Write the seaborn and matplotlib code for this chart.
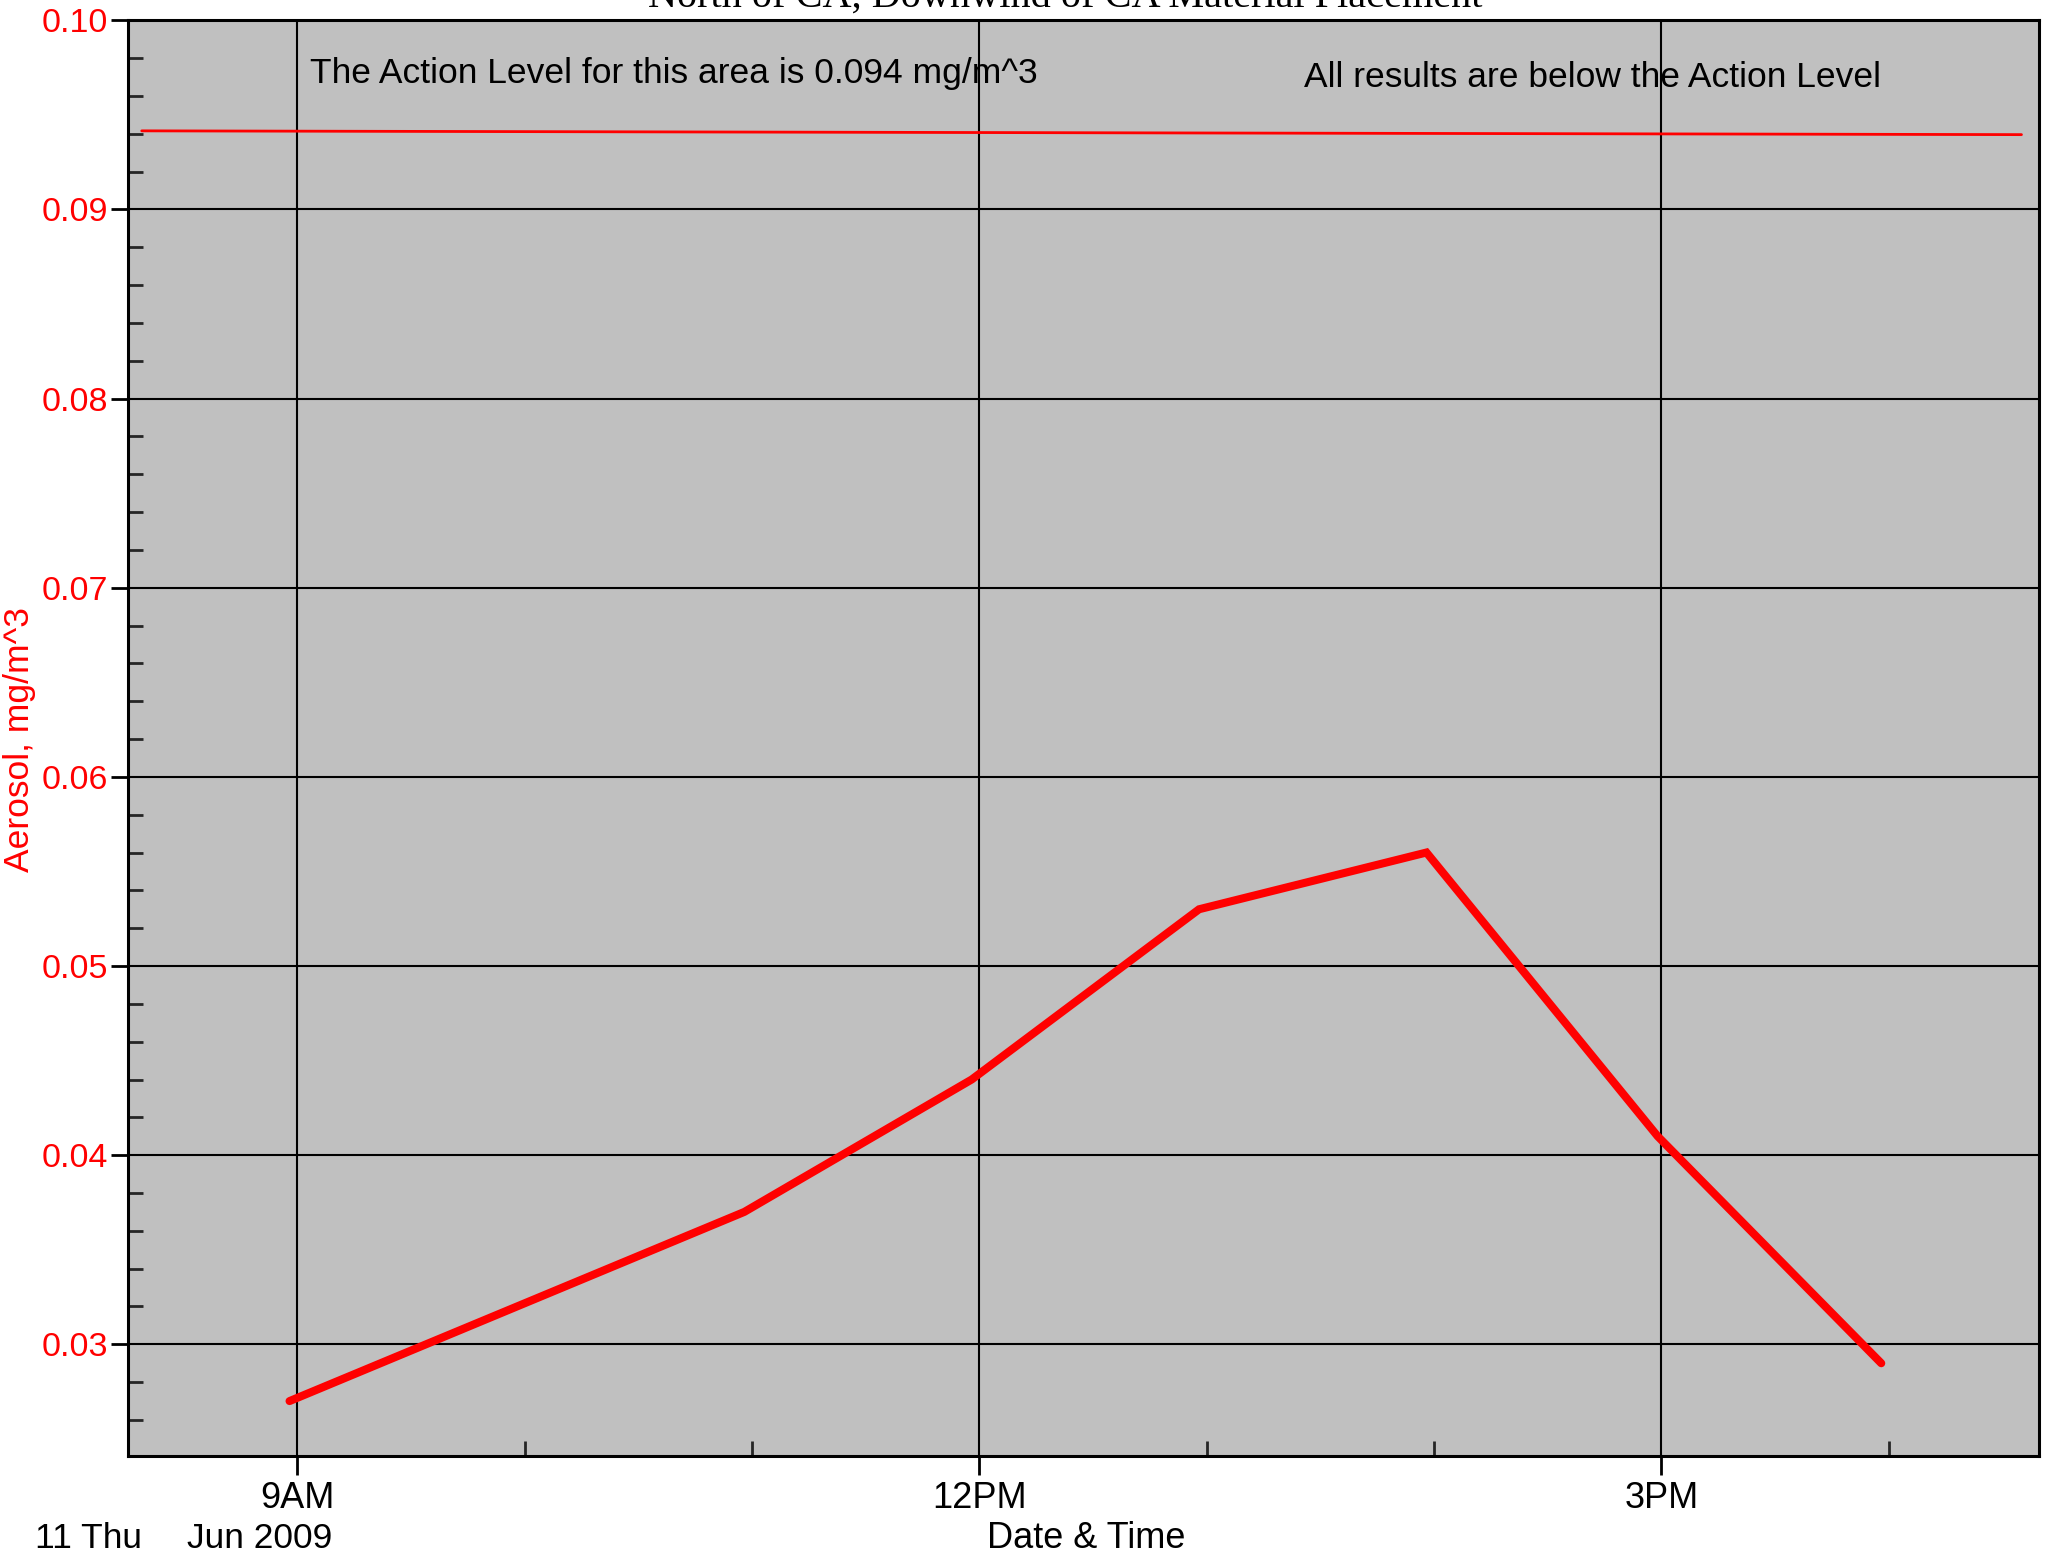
import pandas as pd
import numpy as np
import seaborn as sns
import matplotlib
matplotlib.use("Agg")
import matplotlib.pyplot as plt
import matplotlib.dates as mdates
from matplotlib.ticker import MultipleLocator

# data
sample_times = ["2009-06-11 08:58", "2009-06-11 10:58", "2009-06-11 11:58",
                "2009-06-11 12:58", "2009-06-11 13:58", "2009-06-11 14:59",
                "2009-06-11 15:58"]
aerosol = [0.027, 0.037, 0.044, 0.053, 0.056, 0.041, 0.029]

action_times = ["2009-06-11 08:19", "2009-06-11 16:35"]
action_level = [0.09415, 0.09395]

tick_times = ["2009-06-11 09:00", "2009-06-11 12:00", "2009-06-11 15:00"]
tick_labels = ["9AM", "12PM", "3PM"]

df = pd.DataFrame({"time": pd.to_datetime(sample_times), "aerosol": aerosol})
al = pd.DataFrame({"time": pd.to_datetime(action_times), "level": action_level})

sns.set_style("ticks")
plt.rcParams['font.family'] = ['Liberation Sans', 'DejaVu Sans']
plt.rcParams['text.color'] = 'black'

fig = plt.figure(figsize=(20.49, 15.53), dpi=100)
ax = fig.add_axes([0.0627, 0.0625, 0.9325, 0.9245])
ax.set_facecolor("#c0c0c0")

# Step 1: action level line and the measured series
sns.lineplot(data=al, x="time", y="level", ax=ax, color="#ff0000", linewidth=2.0)
sns.lineplot(data=df, x="time", y="aerosol", ax=ax, color="#ff0000",
             linewidth=5.8, solid_capstyle="round", solid_joinstyle="miter")

# Step 2: axes limits and ticks
ax.set_xlim(pd.Timestamp("2009-06-11 08:15:30"), pd.Timestamp("2009-06-11 16:39:40"))
ax.set_ylim(0.0241, 0.10)

ax.set_xticks(pd.to_datetime(tick_times))
ax.set_xticklabels(tick_labels)
ax.xaxis.set_minor_locator(mdates.HourLocator())
ax.yaxis.set_major_locator(MultipleLocator(0.01))
ax.yaxis.set_minor_locator(MultipleLocator(0.002))
ax.yaxis.set_major_formatter(plt.FormatStrFormatter("%.2f"))

ax.tick_params(axis="both", which="major", direction="out", length=14, width=2,
               pad=3, color="black")
ax.tick_params(axis="both", which="minor", direction="in", length=11, width=2)
ax.tick_params(axis="y", which="major", labelcolor="#ff0000", labelsize=24.5,
               length=12, pad=3)
ax.tick_params(axis="x", which="major", labelcolor="black", labelsize=26, pad=4)

ax.grid(True, which="major", color="black", linewidth=1.5)
ax.set_axisbelow(True)
for s in ax.spines.values():
    s.set_linewidth(2.2)
    s.set_color("black")

ax.set_xlabel("")
ax.set_ylabel("")

# Step 3: texts
ax.text(0.0951, 0.9627, "The Action Level for this area is 0.094 mg/m^3",
        transform=ax.transAxes, fontsize=25.5, va="center", ha="left", color="black")
ax.text(0.615, 0.960, "All results are below the Action Level",
        transform=ax.transAxes, fontsize=25.5, va="center", ha="left", color="black")

fig.text(0.52, 0.9955, "North of CA, Downwind of CA Material Placement",
         fontsize=29, family=["Liberation Serif", "DejaVu Serif"],
         ha="center", va="baseline", color="black")
fig.text(0.0095, 0.524, "Aerosol, mg/m^3", color="#ff0000", fontsize=25.5,
         rotation=90, ha="center", va="center")
fig.text(0.530, 0.0093, "Date & Time", fontsize=26, ha="center", va="center")
fig.text(0.0173, 0.0093, "11 Thu", fontsize=25.5, ha="left", va="center")
fig.text(0.0915, 0.0093, "Jun 2009", fontsize=25.5, ha="left", va="center")

fig.savefig("out.png", dpi=100)
